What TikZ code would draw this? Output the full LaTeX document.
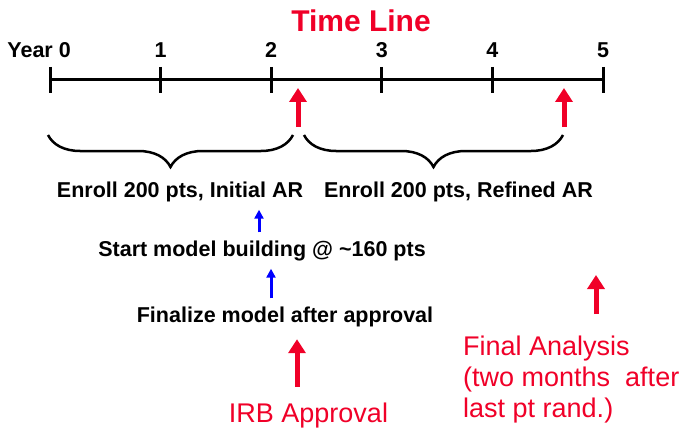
\documentclass[tikz,border=0pt]{standalone}
\usepackage{fontspec}
\setmainfont{Liberation Sans}
\usetikzlibrary{arrows.meta, calc, decorations.pathreplacing, positioning}
\definecolor{tlred}{RGB}{240,0,40}
\definecolor{tlblue}{RGB}{0,0,255}

\begin{document}
\begin{tikzpicture}[x=1pt, y=-1pt]
    % --- Styles ---
    \tikzstyle{axis}=[line width=3pt, color=black]
    \tikzstyle{year_label}=[anchor=base, inner sep=0pt, font=\bfseries\fontsize{21.5}{24}\selectfont]
    \tikzstyle{step_text}=[anchor=base, inner sep=0pt, text height=16pt, text depth=5pt, font=\bfseries\fontsize{21.5}{24}\selectfont]
    \tikzstyle{red_text}=[inner sep=0pt, color=tlred, font=\fontsize{27}{31}\selectfont]
    \tikzstyle{brace_line}=[line width=2.5pt, decorate, decoration={brace, mirror, amplitude=32pt}]
    \tikzstyle{red_arrow}=[line width=5pt, color=tlred, -{Triangle[width=17pt, length=14pt]}]
    \tikzstyle{blue_arrow}=[line width=3pt, color=tlblue, -{Triangle[width=9pt, length=9pt]}, shorten <=7.5pt, shorten >=7.5pt]

    \useasboundingbox (0,0) rectangle (686,428);

    % --- 1. Title and Axis ---
    \node[red_text, anchor=base, font=\bfseries\fontsize{30}{34}\selectfont] (title) at (361,32) {Time Line};
    \draw[axis] (50,80) -- (603,80);
    \foreach \i in {0,...,5} {
        \pgfmathsetmacro{\xpos}{50+110.6*\i}
        \coordinate (t\i) at (\xpos,80);
        \draw[axis] (\xpos,67) -- (\xpos,93);
    }
    \node[year_label, anchor=base east] (y0) at (71,58) {Year 0};
    \foreach \i in {1,...,5} {
        \node[year_label] (y\i) at ($(t\i)+(0,-22)$) {\i};
    }

    % --- 2. Enrollment Periods ---
    \draw[brace_line] (48,135) -- (293,135);
    \draw[brace_line] (304,135) -- (563,135);
    \node[step_text] (enrollA) at (180,197) {Enroll 200 pts, Initial AR};
    \node[step_text] (enrollB) at (458.5,197) {Enroll 200 pts, Refined AR};

    % --- 3. Model Building ---
    \node[step_text] (start) at (262,256) {Start model building @ \textasciitilde160 pts};
    \node[step_text] (finalize) at (285,322) {Finalize model after approval};
    \draw[blue_arrow] (start.north -| 259,0) -- (enrollA.south -| 259,0);
    \draw[blue_arrow] (finalize.north -| 271,0) -- (start.south -| 271,0);

    % --- 4. Milestones ---
    \coordinate (irb_time) at (298,80);
    \coordinate (final_time) at (564,80);
    \coordinate (final_tip) at (596,275);
    \draw[red_arrow, shorten >=8pt] ([yshift=-47pt]irb_time) -- (irb_time);
    \draw[red_arrow, shorten >=8pt] ([yshift=-47pt]final_time) -- (final_time);

    \node[red_text, anchor=base, text height=20pt, text depth=6pt] (irb) at (308.5,422) {IRB Approval};
    \node[red_text, anchor=north west, align=left] (final) at (463,336) {Final Analysis\\(two months~ after\\last pt rand.)};
    \draw[red_arrow, shorten <=15pt, shorten >=12pt] (irb.north -| 297,0) -- (finalize.south -| 297,0);
    \draw[red_arrow, shorten <=22pt] (final.north -| final_tip) -- (final_tip);

\end{tikzpicture}
\end{document}
